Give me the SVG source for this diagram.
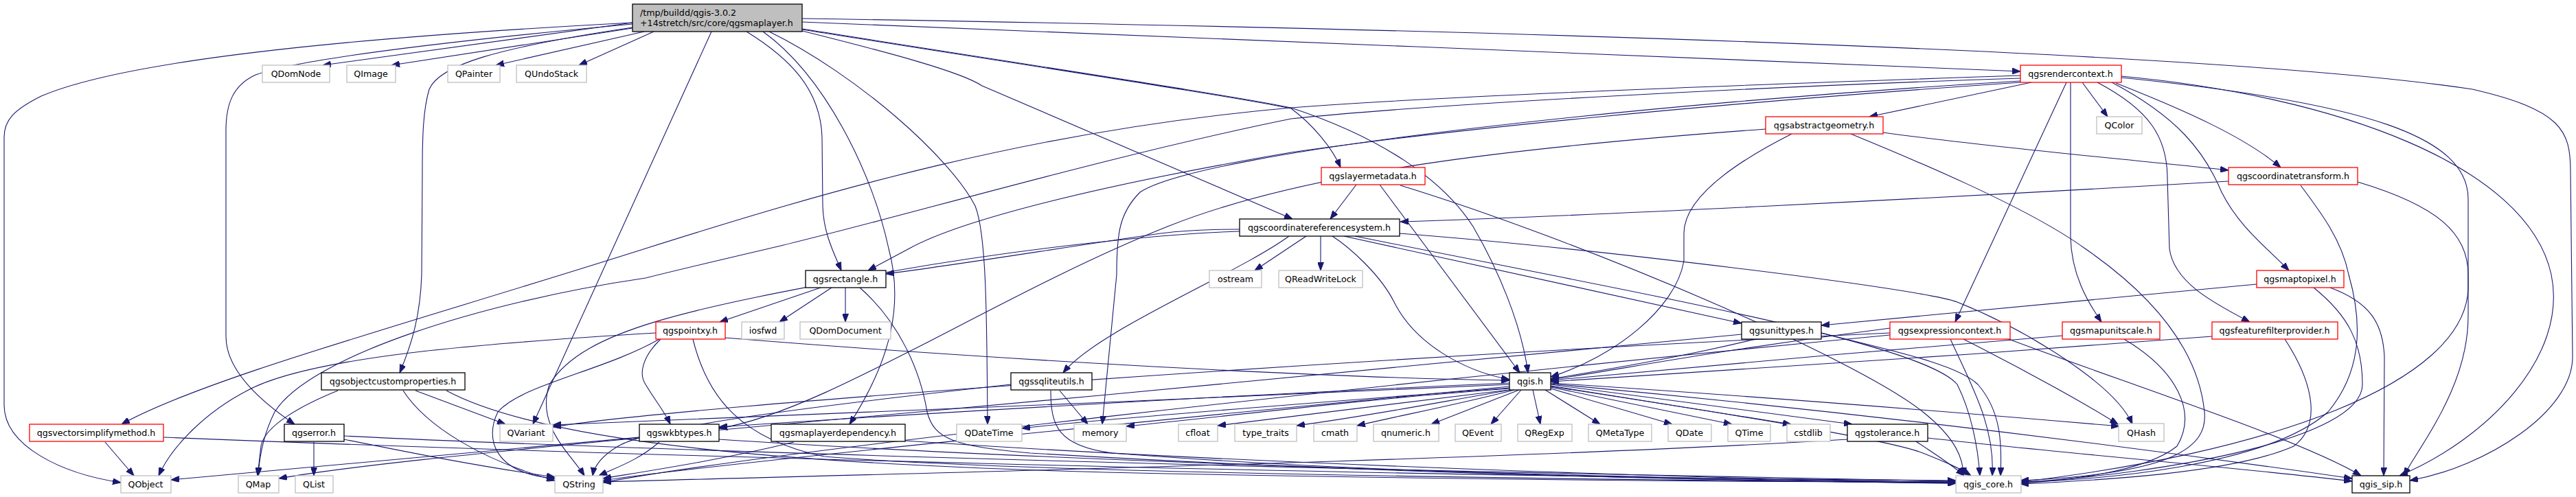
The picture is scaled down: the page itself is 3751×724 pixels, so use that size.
<svg xmlns="http://www.w3.org/2000/svg" width="3751" height="724" viewBox="0 0 3751 724">
<defs>
<marker id="a" markerWidth="12" markerHeight="9" refX="12" refY="4.5" orient="auto" markerUnits="userSpaceOnUse"><path d="M0,0 L12,4.5 L0,9 Z" fill="#191970" stroke="#191970"/></marker>
</defs>
<style>
.e{fill:none;stroke:#191970;stroke-width:1.1;marker-end:url(#a)}
.n rect{fill:#fff;stroke:#000;stroke-width:1.3}
.x rect{fill:#fff;stroke:#bfbfbf;stroke-width:1.3}
.r rect{fill:#fff;stroke:#ff0000;stroke-width:1.3}
text{font-family:"DejaVu Sans","Liberation Sans",sans-serif;font-size:12.65px;fill:#000;text-anchor:middle}
.l{text-anchor:start}
</style>
<rect width="3751" height="724" fill="#fff"/>
<g id="edges">
<path class="e" d="M921,33 C600,50 200,80 60,140 C20,160 6,175 6,200 L6,590 C6,650 90,690 176,703"/>
<path class="e" d="M921,35 C600,65 420,90 370,110 C340,125 329,150 329,190 L329,490 C329,540 380,585 429,618"/>
<path class="e" d="M921,40 C720,70 640,95 625,130 C616,160 615,200 615,250 L614,400 C612,460 600,500 582,543"/>
<path class="e" d="M921,33 L470,95"/>
<path class="e" d="M921,41 L570,95"/>
<path class="e" d="M938,46 L722,95"/>
<path class="e" d="M952,46 L843,95"/>
<path class="e" d="M1036,46 L776,618"/>
<path class="e" d="M1087,46 C1150,85 1195,130 1197,200 L1198,300 C1199,340 1215,370 1225,394"/>
<path class="e" d="M1111,46 C1200,110 1270,250 1294,362 C1315,440 1300,520 1237,618"/>
<path class="e" d="M1120,46 C1250,110 1384,230 1420,300 C1436,340 1437,450 1438,618"/>
<path class="e" d="M1168,42 C1500,95 1800,140 1880,157 C2010,200 2100,260 2145,330 C2180,390 2215,470 2225,543"/>
<path class="e" d="M1168,43 C1500,96 1800,141 1880,158 C1910,180 1940,215 1952,244"/>
<path class="e" d="M1168,45 C1300,78 1400,105 1430,125 L1882,319"/>
<path class="e" d="M1168,32 C1600,50 2500,85 2942,104"/>
<path class="e" d="M1168,27 C2000,40 3200,70 3600,130 C3730,160 3743,190 3743,250 L3746,520 C3746,600 3620,680 3509,700"/>
<path class="e" d="M3032,120 L3069,170"/>
<path class="e" d="M2958,120 L2722,170"/>
<path class="e" d="M3081,121 C3180,160 3270,200 3321,244"/>
<path class="e" d="M3009,120 L2847,469"/>
<path class="e" d="M3015,120 L3015,345 C3016,400 3040,440 3060,469"/>
<path class="e" d="M3054,120 C3130,160 3156,200 3156,260 L3159,362 C3165,410 3220,440 3276,469"/>
<path class="e" d="M3075,120 C3170,170 3210,220 3235,280 C3260,330 3300,360 3333,394"/>
<path class="e" d="M3089,113 C3450,150 3594,200 3594,290 L3594,420 C3590,560 3300,660 2942,702"/>
<path class="e" d="M3089,111 C3400,140 3680,240 3715,400 C3740,520 3620,640 3494,693"/>
<path class="e" d="M2942,110 C2500,125 2100,140 1880,157 C1500,190 1200,280 940,362 C600,470 300,550 177,618"/>
<path class="e" d="M2942,118 C2400,150 1750,220 1660,280 C1630,310 1626,340 1626,400 L1605,618"/>
<path class="e" d="M2942,120 C2500,150 2100,190 1880,222 C1600,270 1400,320 1324,362 L1264,394"/>
<path class="e" d="M2942,114 C2600,125 2100,150 1880,173 C1600,230 1300,320 1120,362 C1000,390 960,400 940,405 C700,440 450,520 400,600 C385,630 378,660 376,693"/>
<path class="e" d="M2609,195 C2520,240 2452,290 2452,340 L2452,380 C2440,450 2350,520 2258,549"/>
<path class="e" d="M2742,193 C2900,215 3100,232 3245,248"/>
<path class="e" d="M2695,195 C2780,230 2950,300 3036,362 C3120,420 3200,500 3210,600 C3215,650 3170,690 2942,700"/>
<path class="e" d="M2571,188 C2200,215 1900,250 1700,330 C1450,430 1200,600 1047,624"/>
<path class="e" d="M1975,269 L1937,319"/>
<path class="e" d="M2009,269 L2213,543"/>
<path class="e" d="M2039,270 C2300,350 2700,520 2800,600 C2850,640 2859,670 2859,693"/>
<path class="e" d="M1805,334 C1750,334 1720,336 1690,340 C1550,360 1400,385 1290,399"/>
<path class="e" d="M1902,344 L1827,394"/>
<path class="e" d="M1923,344 L1923,394"/>
<path class="e" d="M1940,344 C1965,360 2010,400 2030,440 C2060,500 2130,540 2198,553"/>
<path class="e" d="M1957,344 L2536,471"/>
<path class="e" d="M2038,340 C2300,360 2800,420 2850,440 C2950,480 3080,560 3105,618"/>
<path class="e" d="M1877,344 C1800,400 1600,480 1548,543"/>
<path class="e" d="M1805,337 C1700,340 1500,360 1300,395 C1000,450 850,480 800,560 C780,620 830,660 851,693"/>
<path class="e" d="M1973,344 C2400,430 2800,500 2850,560 C2870,600 2880,650 2883,693"/>
<path class="e" d="M3245,264 C2800,290 2300,315 2039,323"/>
<path class="e" d="M3350,270 C3380,310 3410,350 3420,400 C3440,470 3440,540 3390,600 C3300,680 3050,700 2942,702"/>
<path class="e" d="M3433,265 C3550,300 3594,340 3594,400 L3594,460 C3594,560 3530,640 3500,693"/>
<path class="e" d="M3286,414 L2652,474"/>
<path class="e" d="M3369,419 C3420,460 3440,500 3440,560 C3440,640 3150,690 2942,703"/>
<path class="e" d="M3393,419 C3450,440 3470,470 3472,520 L3471,693"/>
<path class="e" d="M2556,494 C2450,520 2330,540 2258,552"/>
<path class="e" d="M2652,485 C2750,510 2850,530 2880,560 C2915,600 2915,650 2913,693"/>
<path class="e" d="M2536,487 C1800,560 900,640 249,699"/>
<path class="e" d="M2752,478 C2500,510 2350,540 2258,553"/>
<path class="e" d="M2859,494 C2950,540 3040,590 3084,618"/>
<path class="e" d="M2840,494 C2870,560 2905,620 2901,693"/>
<path class="e" d="M2925,494 C3100,560 3350,640 3438,693"/>
<path class="e" d="M2752,485 C2000,520 1000,590 805,622"/>
<path class="e" d="M2752,488 C2000,560 1100,660 878,703"/>
<path class="e" d="M3003,489 C2800,505 2400,540 2258,554"/>
<path class="e" d="M3093,494 C3170,540 3200,600 3170,650 C3120,690 3000,700 2942,704"/>
<path class="e" d="M3221,490 C2900,515 2450,545 2258,556"/>
<path class="e" d="M3327,494 C3370,560 3380,620 3340,650 C3250,690 3050,700 2942,705"/>
<path class="e" d="M1056,492 C1400,520 1900,550 2198,554"/>
<path class="e" d="M955,485 C700,500 450,520 360,569 C300,600 250,650 231,693"/>
<path class="e" d="M962,494 C935,520 930,545 940,560 C955,585 968,600 976,618"/>
<path class="e" d="M960,494 C880,540 760,560 725,600 C705,640 720,690 808,697"/>
<path class="e" d="M1009,494 C1030,580 1080,640 1200,665 C1500,690 2400,700 2848,703"/>
<path class="e" d="M1195,419 L1048,469"/>
<path class="e" d="M1211,419 L1135,469"/>
<path class="e" d="M1231,419 L1231,469"/>
<path class="e" d="M1252,419 C1310,470 1340,540 1350,600 C1360,640 1390,650 1500,660 C2000,690 2500,700 2848,704"/>
<path class="e" d="M492,569 C440,590 385,620 380,650 L375,693"/>
<path class="e" d="M605,569 L736,618"/>
<path class="e" d="M587,569 C620,620 700,670 808,700"/>
<path class="e" d="M650,569 C800,650 1200,680 1700,690 C2200,700 2600,702 2848,702"/>
<path class="e" d="M457,644 L457,693"/>
<path class="e" d="M501,640 C600,660 700,680 808,695"/>
<path class="e" d="M501,635 C900,655 1800,680 2300,690 C2600,697 2750,700 2848,701"/>
<path class="e" d="M153,644 L195,693"/>
<path class="e" d="M238,637 C800,660 2000,695 2848,700"/>
<path class="e" d="M931,638 C700,660 500,680 406,697"/>
<path class="e" d="M960,644 C930,670 900,680 872,693"/>
<path class="e" d="M1047,640 C1500,670 2400,700 2848,702"/>
<path class="e" d="M1156,644 C1050,670 950,685 878,697"/>
<path class="e" d="M1318,642 C1800,675 2500,698 2848,703"/>
<path class="e" d="M1543,569 L1584,618"/>
<path class="e" d="M1472,560 C1200,590 950,620 900,650 C875,665 865,680 863,693"/>
<path class="e" d="M1530,569 C1530,620 1540,650 1620,660 C2000,690 2500,700 2848,704"/>
<path class="e" d="M2198,560 C1800,580 1000,610 805,619"/>
<path class="e" d="M2198,563 C1800,600 1000,680 878,700"/>
<path class="e" d="M2198,565 C2000,580 1600,610 1488,624"/>
<path class="e" d="M2198,566 C2000,580 1800,605 1640,621"/>
<path class="e" d="M2198,568 C2050,585 1900,605 1773,620"/>
<path class="e" d="M2200,568 C2100,585 2000,605 1888,620"/>
<path class="e" d="M2205,568 C2120,590 2040,605 1976,620"/>
<path class="e" d="M2212,568 L2084,618"/>
<path class="e" d="M2215,568 L2171,618"/>
<path class="e" d="M2232,568 L2243,618"/>
<path class="e" d="M2250,568 L2330,618"/>
<path class="e" d="M2258,566 L2435,618"/>
<path class="e" d="M2258,564 L2522,618"/>
<path class="e" d="M2258,562 L2608,618"/>
<path class="e" d="M2258,560 L2697,618"/>
<path class="e" d="M2258,558 C2600,580 2900,605 3086,621"/>
<path class="e" d="M2258,563 C2500,600 2750,640 2800,660 C2830,672 2850,680 2870,693"/>
<path class="e" d="M2258,559 C2700,600 3100,650 3425,697"/>
<path class="e" d="M2198,558 C1800,575 1300,605 1047,622"/>
<path class="e" d="M2790,643 C2815,660 2840,675 2860,693"/>
<path class="e" d="M2807,638 C3000,660 3250,680 3425,701"/>
<path class="e" d="M2690,640 C2200,670 1300,690 878,702"/>
</g>
<g id="n-root"><rect x="921" y="6" width="247" height="40" fill="#bfbfbf" stroke="#000" stroke-width="1.3"/><text class="l" x="932" y="22.5">/tmp/buildd/qgis-3.0.2</text><text class="l" x="932" y="37.5">+14stretch/src/core/qgsmaplayer.h</text></g>
<g id="n-QDomNode" class="x"><rect x="382" y="95" width="98" height="25"/><text x="431" y="112">QDomNode</text></g>
<g id="n-QImage" class="x"><rect x="505" y="95" width="71" height="25"/><text x="540" y="112">QImage</text></g>
<g id="n-QPainter" class="x"><rect x="652" y="95" width="76" height="25"/><text x="690" y="112">QPainter</text></g>
<g id="n-QUndoStack" class="x"><rect x="752" y="95" width="102" height="25"/><text x="803" y="112">QUndoStack</text></g>
<g id="n-qgsrendercontext" class="r"><rect x="2942" y="95" width="147" height="25"/><text x="3015" y="112">qgsrendercontext.h</text></g>
<g id="n-qgsabstractgeometry" class="r"><rect x="2571" y="170" width="171" height="25"/><text x="2656" y="187">qgsabstractgeometry.h</text></g>
<g id="n-QColor" class="x"><rect x="3053" y="170" width="66" height="25"/><text x="3086" y="187">QColor</text></g>
<g id="n-qgslayermetadata" class="r"><rect x="1924" y="244" width="151" height="25"/><text x="1999" y="261">qgslayermetadata.h</text></g>
<g id="n-qgscoordinatetransform" class="r"><rect x="3245" y="244" width="188" height="25"/><text x="3339" y="261">qgscoordinatetransform.h</text></g>
<g id="n-qgscoordinatereferencesystem" class="n"><rect x="1805" y="319" width="233" height="25"/><text x="1921" y="336">qgscoordinatereferencesystem.h</text></g>
<g id="n-qgsrectangle" class="n"><rect x="1173" y="394" width="117" height="25"/><text x="1231" y="411">qgsrectangle.h</text></g>
<g id="n-ostream" class="x"><rect x="1761" y="394" width="76" height="25"/><text x="1799" y="411">ostream</text></g>
<g id="n-QReadWriteLock" class="x"><rect x="1862" y="394" width="122" height="25"/><text x="1923" y="411">QReadWriteLock</text></g>
<g id="n-qgsmaptopixel" class="r"><rect x="3286" y="394" width="127" height="25"/><text x="3349" y="411">qgsmaptopixel.h</text></g>
<g id="n-qgspointxy" class="r"><rect x="955" y="469" width="101" height="25"/><text x="1005" y="486">qgspointxy.h</text></g>
<g id="n-iosfwd" class="x"><rect x="1080" y="469" width="62" height="25"/><text x="1111" y="486">iosfwd</text></g>
<g id="n-QDomDocument" class="x"><rect x="1165" y="469" width="132" height="25"/><text x="1231" y="486">QDomDocument</text></g>
<g id="n-qgsunittypes" class="n"><rect x="2536" y="469" width="116" height="25"/><text x="2594" y="486">qgsunittypes.h</text></g>
<g id="n-qgsexpressioncontext" class="r"><rect x="2752" y="469" width="175" height="25"/><text x="2839" y="486">qgsexpressioncontext.h</text></g>
<g id="n-qgsmapunitscale" class="r"><rect x="3003" y="469" width="142" height="25"/><text x="3074" y="486">qgsmapunitscale.h</text></g>
<g id="n-qgsfeaturefilterprovider" class="r"><rect x="3221" y="469" width="183" height="25"/><text x="3312" y="486">qgsfeaturefilterprovider.h</text></g>
<g id="n-qgsobjectcustomproperties" class="n"><rect x="468" y="543" width="209" height="25"/><text x="572" y="560">qgsobjectcustomproperties.h</text></g>
<g id="n-qgssqliteutils" class="n"><rect x="1472" y="543" width="118" height="25"/><text x="1531" y="560">qgssqliteutils.h</text></g>
<g id="n-qgis" class="n"><rect x="2198" y="543" width="60" height="25"/><text x="2228" y="560">qgis.h</text></g>
<g id="n-qgsvectorsimplifymethod" class="r"><rect x="43" y="618" width="195" height="25"/><text x="140" y="635">qgsvectorsimplifymethod.h</text></g>
<g id="n-qgserror" class="n"><rect x="414" y="618" width="87" height="25"/><text x="457" y="635">qgserror.h</text></g>
<g id="n-QVariant" class="x"><rect x="728" y="618" width="77" height="25"/><text x="766" y="635">QVariant</text></g>
<g id="n-qgswkbtypes" class="n"><rect x="931" y="618" width="116" height="25"/><text x="989" y="635">qgswkbtypes.h</text></g>
<g id="n-qgsmaplayerdependency" class="n"><rect x="1123" y="618" width="195" height="25"/><text x="1220" y="635">qgsmaplayerdependency.h</text></g>
<g id="n-QDateTime" class="x"><rect x="1393" y="618" width="95" height="25"/><text x="1440" y="635">QDateTime</text></g>
<g id="n-memory" class="x"><rect x="1564" y="618" width="76" height="25"/><text x="1602" y="635">memory</text></g>
<g id="n-cfloat" class="x"><rect x="1716" y="618" width="57" height="25"/><text x="1744" y="635">cfloat</text></g>
<g id="n-type_traits" class="x"><rect x="1798" y="618" width="90" height="25"/><text x="1843" y="635">type_traits</text></g>
<g id="n-cmath" class="x"><rect x="1913" y="618" width="63" height="25"/><text x="1944" y="635">cmath</text></g>
<g id="n-qnumeric" class="x"><rect x="2000" y="618" width="95" height="25"/><text x="2047" y="635">qnumeric.h</text></g>
<g id="n-QEvent" class="x"><rect x="2119" y="618" width="67" height="25"/><text x="2152" y="635">QEvent</text></g>
<g id="n-QRegExp" class="x"><rect x="2210" y="618" width="79" height="25"/><text x="2249" y="635">QRegExp</text></g>
<g id="n-QMetaType" class="x"><rect x="2313" y="618" width="92" height="25"/><text x="2359" y="635">QMetaType</text></g>
<g id="n-QDate" class="x"><rect x="2429" y="618" width="63" height="25"/><text x="2460" y="635">QDate</text></g>
<g id="n-QTime" class="x"><rect x="2516" y="618" width="62" height="25"/><text x="2547" y="635">QTime</text></g>
<g id="n-cstdlib" class="x"><rect x="2602" y="618" width="63" height="25"/><text x="2633" y="635">cstdlib</text></g>
<g id="n-qgstolerance" class="n"><rect x="2690" y="618" width="117" height="25"/><text x="2748" y="635">qgstolerance.h</text></g>
<g id="n-QHash" class="x"><rect x="3085" y="617" width="66" height="26"/><text x="3118" y="635">QHash</text></g>
<g id="n-QObject" class="x"><rect x="176" y="693" width="73" height="25"/><text x="212" y="710">QObject</text></g>
<g id="n-QMap" class="x"><rect x="347" y="693" width="59" height="25"/><text x="376" y="710">QMap</text></g>
<g id="n-QList" class="x"><rect x="430" y="693" width="55" height="25"/><text x="457" y="710">QList</text></g>
<g id="n-QString" class="x"><rect x="808" y="693" width="70" height="25"/><text x="843" y="710">QString</text></g>
<g id="n-qgis_core" class="x"><rect x="2848" y="693" width="95" height="25"/><text x="2895" y="710">qgis_core.h</text></g>
<g id="n-qgis_sip" class="n"><rect x="3425" y="693" width="84" height="25"/><text x="3467" y="710">qgis_sip.h</text></g>
</svg>
